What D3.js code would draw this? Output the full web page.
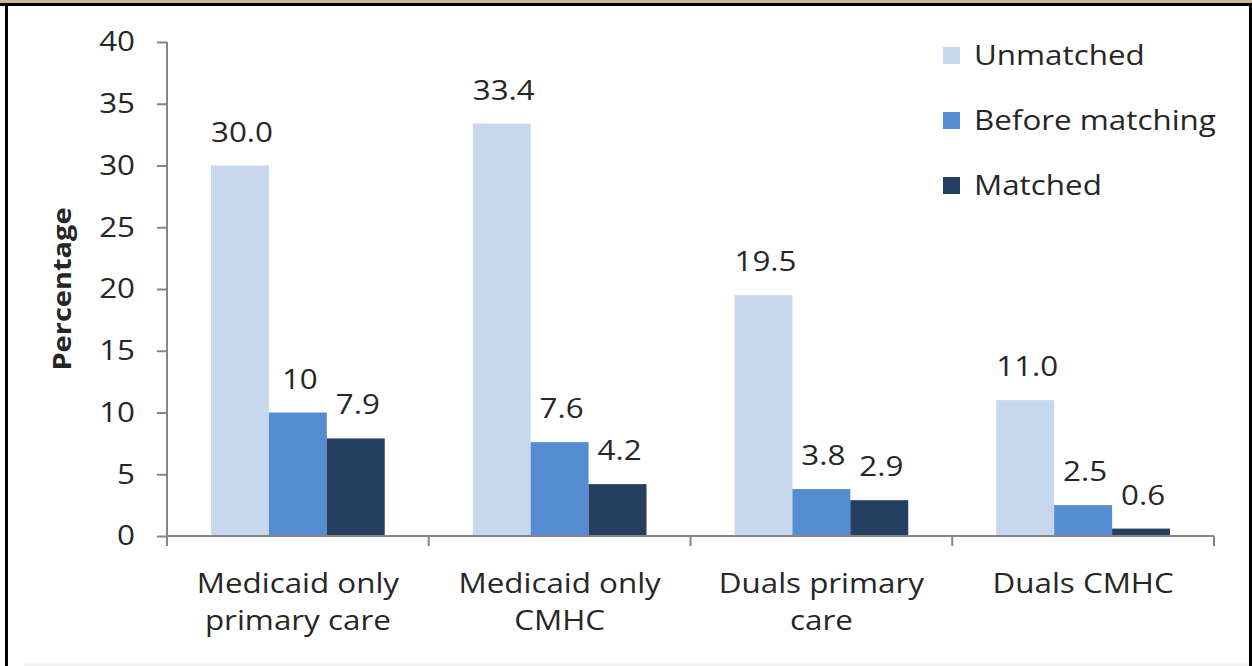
<!DOCTYPE html>
<html><head><meta charset="utf-8">
<script src="https://cdn.jsdelivr.net/npm/d3@7"></script>
<style>
html,body{margin:0;padding:0;background:#fff;}
svg{display:block;}
text{font-family:"Open Sans",sans-serif;fill:#262626;}
</style></head>
<body>
<svg id="chart" width="1252" height="666"></svg>
<script>
const categories = [["Medicaid only","primary care"],["Medicaid only","CMHC"],["Duals primary","care"],["Duals CMHC"]];
const seriesNames = ["Unmatched","Before matching","Matched"];
const unmatched = [30.0, 33.4, 19.5, 11.0];
const beforeMatching = [10, 7.6, 3.8, 2.5];
const matched = [7.9, 4.2, 2.9, 0.6];
const unmatchedLabels = ["30.0","33.4","19.5","11.0"];
const beforeLabels = ["10","7.6","3.8","2.5"];
const matchedLabels = ["7.9","4.2","2.9","0.6"];
const yTicks = [0,5,10,15,20,25,30,35,40];
const colors = ["#c7d7ee","#558bd0","#243f60"];

const series = [unmatched, beforeMatching, matched];
const labels = [unmatchedLabels, beforeLabels, matchedLabels];
const FS = 28;
const SX = 1.12;

const svg = d3.select("#chart");
// frame
svg.append("rect").attr("x",0).attr("y",0).attr("width",1252).attr("height",3).attr("fill","#c8bd92");
svg.append("rect").attr("x",0).attr("y",3).attr("width",1252).attr("height",3).attr("fill","#000");
svg.append("rect").attr("x",5).attr("y",3).attr("width",3).attr("height",663).attr("fill","#000");
svg.append("rect").attr("x",1249).attr("y",3).attr("width",3).attr("height",663).attr("fill","#000");
svg.append("rect").attr("x",24).attr("y",663).attr("width",1225).attr("height",3).attr("fill","#f2f2f2");

const x0 = d3.scaleBand().domain(d3.range(categories.length)).range([167,1214]).paddingInner(0).paddingOuter(0);
const x1 = d3.scaleBand().domain(d3.range(series.length)).range([44, x0.bandwidth()-44]).padding(0);
const y = d3.scaleLinear().domain([0,40]).range([536,42]);

const g = svg.append("g");
categories.forEach((c,i)=>{
  series.forEach((s,j)=>{
    g.append("rect")
      .attr("x", x0(i)+x1(j))
      .attr("y", y(s[i]))
      .attr("width", x1.bandwidth())
      .attr("height", y(0)-y(s[i]))
      .attr("fill", colors[j]);
    g.append("text")
      .attr("transform", `translate(${x0(i)+x1(j)+x1.bandwidth()/2+2},${y(s[i])-24}) scale(${SX},1)`)
      .attr("text-anchor","middle")
      .attr("font-size",FS)
      .text(labels[j][i]);
  });
});

// y axis
const yAxis = d3.axisLeft(y).tickValues(yTicks).tickSize(10).tickSizeOuter(0).tickPadding(22);
const ya = svg.append("g").attr("transform","translate(167,0)").call(yAxis);
ya.selectAll("path,line").attr("stroke","#868686").attr("stroke-width",2);
ya.selectAll("text").attr("font-size",FS).attr("fill","#262626").style("font-family","'Open Sans',sans-serif")
  .attr("x",0).attr("transform",`translate(-32,0) scale(${SX},1)`);
ya.select(".domain").attr("d","M0,42V536");

// x axis
const xa = svg.append("g").attr("transform","translate(0,536)");
xa.append("line").attr("x1",167).attr("x2",1214).attr("y1",0).attr("y2",0).attr("stroke","#868686").attr("stroke-width",2);
d3.range(categories.length+1).forEach(i=>{
  const xx = i<categories.length ? x0(i) : x0.range()[1];
  xa.append("line").attr("x1",xx).attr("x2",xx).attr("y1",0).attr("y2",10).attr("stroke","#868686").attr("stroke-width",2);
});
categories.forEach((c,i)=>{
  const t = xa.append("text").attr("text-anchor","middle").attr("font-size",FS)
    .attr("transform", `translate(${x0(i)+x0.bandwidth()/2},0) scale(${SX},1)`);
  c.forEach((line,k)=>{
    t.append("tspan").attr("x", 0).attr("y", 57+k*37).text(line);
  });
});

// y title
svg.append("text").attr("transform","translate(71,289) rotate(-90) scale(1.16,1)")
  .attr("text-anchor","middle").attr("font-size",25).attr("font-weight","bold").attr("fill","#000")
  .text("Percentage");

// legend
const lg = svg.append("g");
seriesNames.forEach((n,j)=>{
  lg.append("rect").attr("x",943).attr("y",47+j*65).attr("width",17).attr("height",17).attr("fill",colors[j]);
  lg.append("text").attr("transform",`translate(974,${65+j*65}) scale(${SX},1)`).attr("font-size",FS).text(n);
});
</script>
</body></html>
